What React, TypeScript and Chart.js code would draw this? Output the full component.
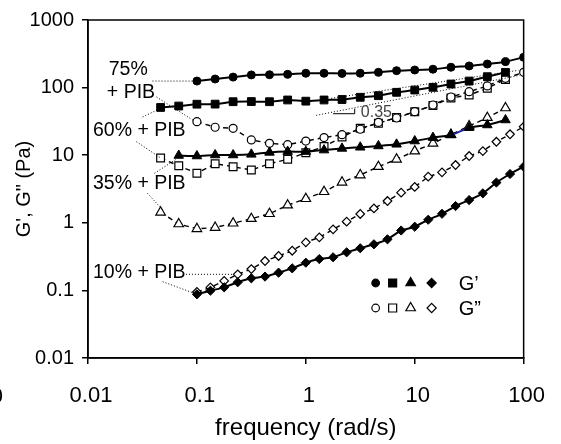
import React, { useEffect, useRef } from "react";
import { Chart, registerables } from "chart.js";

Chart.register(...registerables);

const FONT = '"Liberation Sans", Arial, Helvetica, sans-serif';

// frequencies (rad/s)
const freq6 = [0.0464, 0.0681, 0.1, 0.147, 0.215, 0.316, 0.464, 0.681, 1, 1.47, 2.15, 3.16, 4.64, 6.81, 10, 14.7, 21.5, 31.6, 46.4, 68.1, 100];
const freq8 = [0.1, 0.133, 0.178, 0.237, 0.316, 0.422, 0.562, 0.75, 1, 1.33, 1.78, 2.37, 3.16, 4.22, 5.62, 7.5, 10, 13.3, 17.8, 23.7, 31.6, 42.2, 56.2, 75, 100];

// 75% + PIB (starts at freq6[2])
const g1_75 = [125, 134, 143, 154, 155, 157, 163, 163, 162, 163, 168, 178, 182, 187, 200, 209, 223, 242, 281];
const g2_75 = [31.3, 25.9, 25.0, 16.8, 15.0, 14.3, 16.2, 18.2, 20.1, 24.2, 30.5, 35.5, 44, 55.3, 72.6, 87, 106, 137, 168];
// 60% + PIB (starts at freq6[0])
const g1_60 = [50.8, 53.4, 56.8, 57, 61.8, 62.2, 61.8, 65.6, 63, 65.6, 66.7, 71.9, 75.9, 85.2, 92.1, 101, 113, 125, 145, 168];
const g2_60 = [9.1, 6.97, 5.4, 7.48, 6.76, 6.04, 7.48, 8.69, 10.9, 13.4, 18.6, 25, 29.6, 36.1, 44, 54.3, 70.2, 77.8, 97.7, 132];
// 35% + PIB (G' starts at freq6[1], G" at freq6[0])
const g1_35 = [9.9, 9.73, 10.07, 10.07, 10.3, 11.0, 11.3, 11.3, 11.9, 12.6, 13.1, 13.7, 14.5, 16.2, 18.2, 19.9, 25.5, 28, 33.2];
const g2_35 = [1.43, 0.96, 0.815, 0.851, 0.984, 1.15, 1.36, 1.82, 2.27, 2.88, 3.97, 5.09, 6.76, 8.69, 11.5, 15, 20.2, 27, 35.9, 49.9];
// 10% + PIB (freq8)
const g1_10 = [0.0875, 0.099, 0.111, 0.132, 0.151, 0.160, 0.183, 0.212, 0.257, 0.291, 0.309, 0.366, 0.42, 0.481, 0.570, 0.769, 0.875, 1.11, 1.36, 1.77, 2.17, 2.73, 3.94, 5.27, 6.76];
const g2_10 = [0.0947, 0.111, 0.138, 0.173, 0.207, 0.272, 0.323, 0.386, 0.514, 0.61, 0.80, 1.04, 1.35, 1.63, 2.10, 2.79, 3.39, 4.81, 5.58, 7.16, 9.73, 11.5, 15.8, 20.4, 26.4];

const xTicks = [0.01, 0.1, 1, 10, 100];
const yTicks = [0.01, 0.1, 1, 10, 100, 1000];

// annotation texts (data coords: x, y)
const labelTexts = ["75%", "+ PIB", "60% + PIB", "35% + PIB", "10% + PIB"];
const labelX = [0.0155, 0.0149, 0.0111, 0.0111, 0.0111];
const labelY = [182, 84.8, 22.8, 3.75, 0.181];

// dotted leader / reference lines [x1, y1, x2, y2] in data coords
const dottedLines = [
  [0.0391, 125, 0.0944, 125],
  [0.0426, 72.6, 0.0944, 32.1],
  [0.0317, 36.7, 0.0482, 50.8],
  [0.0278, 15.85, 0.047, 9.0],
  [0.0408, 5.4, 0.0643, 8.69],
  [0.0352, 2.73, 0.0485, 1.55],
  [0.0793, 0.173, 0.2138, 0.173],
  [0.0485, 0.1346, 0.0944, 0.0906],
  [1.247, 38.9, 92, 152],
  [1.71, 69.5, 89.5, 180],
];
// slope marker legs
const slopeLegs = [
  [1.78, 41.1, 2.81, 41.1],
  [2.81, 41.1, 2.81, 48.7],
];
const slopeText = "0.35";
const slopeTextPos = [3.2, 42.1];

const legendRows = ["G\u2019", "G\u201D"];
const legendShapes = ["circle", "rect", "triangle", "rectRot"];

function pts(freqs: number[], start: number, vals: number[]) {
  return vals.map((v, i) => ({ x: freqs[start + i], y: v }));
}

function drawShape(ctx: CanvasRenderingContext2D, shape: string, x: number, y: number, filled: boolean) {
  ctx.beginPath();
  if (shape === "circle") {
    ctx.arc(x, y, 3.8, 0, Math.PI * 2);
  } else if (shape === "rect") {
    ctx.rect(x - 4, y - 4, 8, 8);
  } else if (shape === "triangle") {
    const r = 5.5;
    ctx.moveTo(x, y - r);
    ctx.lineTo(x + r * 0.866, y + r * 0.5);
    ctx.lineTo(x - r * 0.866, y + r * 0.5);
    ctx.closePath();
  } else {
    const r = 4.6;
    ctx.moveTo(x, y - r);
    ctx.lineTo(x + r, y);
    ctx.lineTo(x, y + r);
    ctx.lineTo(x - r, y);
    ctx.closePath();
  }
  ctx.fillStyle = filled ? "#000" : "#fff";
  ctx.fill();
  ctx.lineWidth = 1.2;
  ctx.strokeStyle = "#000";
  ctx.stroke();
}

const decorPlugin = {
  id: "decor",
  afterDatasetsDraw(chart: any) {
    const { ctx, chartArea } = chart;
    const xs = chart.scales.x;
    const ys = chart.scales.y;
    const px = (v: number) => xs.getPixelForValue(v);
    const py = (v: number) => ys.getPixelForValue(v);
    ctx.save();
    // frame
    ctx.strokeStyle = "#000";
    ctx.lineWidth = 1.5;
    ctx.setLineDash([]);
    ctx.strokeRect(chartArea.left, chartArea.top, chartArea.right - chartArea.left, chartArea.bottom - chartArea.top);

    // dotted lines
    ctx.lineWidth = 1;
    ctx.setLineDash([1, 2]);
    dottedLines.forEach((l) => {
      ctx.beginPath();
      ctx.moveTo(px(l[0]), py(l[1]));
      ctx.lineTo(px(l[2]), py(l[3]));
      ctx.stroke();
    });
    ctx.setLineDash([]);
    ctx.lineWidth = 1;
    slopeLegs.forEach((l) => {
      ctx.beginPath();
      ctx.moveTo(px(l[0]), py(l[1]));
      ctx.lineTo(px(l[2]), py(l[3]));
      ctx.stroke();
    });
    ctx.fillStyle = "#444";
    ctx.font = `16px ${FONT}`;
    ctx.textAlign = "left";
    ctx.textBaseline = "middle";
    ctx.fillText(slopeText, px(slopeTextPos[0]), py(slopeTextPos[1]));

    // series labels
    ctx.fillStyle = "#000";
    ctx.font = `19.5px ${FONT}`;
    labelTexts.forEach((t, i) => {
      ctx.fillText(t, px(labelX[i]), py(labelY[i]));
    });

    // legend
    const mx = [-148, -131, -113, -92];
    const rowY = [chartArea.bottom - 75, chartArea.bottom - 50];
    rowY.forEach((yy, r) => {
      legendShapes.forEach((s, i) => drawShape(ctx, s, chartArea.right + mx[i], yy, r === 0));
      ctx.fillStyle = "#000";
      ctx.font = `20px ${FONT}`;
      ctx.textAlign = "left";
      ctx.textBaseline = "middle";
      ctx.fillText(legendRows[r], chartArea.right - 65, yy + 1);
    });

    // clipped leftover label at the far left
    ctx.font = `22px ${FONT}`;
    ctx.textAlign = "right";
    ctx.fillText("0", 3, 397);
    ctx.restore();
  },
};

export default function App() {
  const ref = useRef<HTMLCanvasElement | null>(null);
  useEffect(() => {
    if (!ref.current) return;
    const solid = (data: any[], style: string, radius: number, extra: any = {}) => ({
      data,
      borderColor: "#000",
      borderWidth: 2,
      pointStyle: style,
      pointRadius: radius,
      pointBackgroundColor: "#000",
      pointBorderColor: "#000",
      pointBorderWidth: 1,
      tension: 0.2,
      ...extra,
    });
    const dashed = (data: any[], style: string, radius: number) => ({
      data,
      borderColor: "#000",
      borderWidth: 1.4,
      borderDash: [5, 4],
      pointStyle: style,
      pointRadius: radius,
      pointBackgroundColor: "#fff",
      pointBorderColor: "#000",
      pointBorderWidth: 1.2,
      tension: 0,
    });
    const chart = new Chart(ref.current, {
      type: "line",
      data: {
        datasets: [
          solid(pts(freq6, 2, g1_75), "circle", 4),
          solid(pts(freq6, 0, g1_60), "rect", 5.5),
          solid(pts(freq6, 1, g1_35), "triangle", 5.5, {
            segment: { borderColor: (c: any) => (c.p0DataIndex === 15 ? "#2323a0" : undefined) },
          }),
          solid(pts(freq8, 0, g1_10), "rectRot", 4.6),
          dashed(pts(freq6, 2, g2_75), "circle", 4),
          dashed(pts(freq6, 0, g2_60), "rect", 5.5),
          dashed(pts(freq6, 0, g2_35), "triangle", 5.5),
          dashed(pts(freq8, 0, g2_10), "rectRot", 4.3),
        ] as any,
      },
      options: {
        animation: false,
        responsive: false,
        devicePixelRatio: 1,
        layout: { padding: { left: 0, right: 34, top: 20, bottom: 0 } },
        plugins: { legend: { display: false }, tooltip: { enabled: false } },
        scales: {
          x: {
            type: "logarithmic",
            min: 0.01,
            max: 100,
            afterBuildTicks: (s: any) => {
              s.ticks = xTicks.map((v) => ({ value: v }));
            },
            afterFit: (s: any) => {
              s.height = 86;
            },
            ticks: {
              callback: (v: any) => String(v),
              font: { family: FONT, size: 22 },
              color: "#000",
              padding: 19,
              labelOffset: 3,
              maxRotation: 0,
              autoSkip: false,
            },
            grid: { drawOnChartArea: false, drawTicks: true, tickLength: 6, color: "#000", lineWidth: 1.5 },
            border: { color: "#000", width: 1.5 },
            title: {
              display: true,
              text: "frequency (rad/s)",
              font: { family: FONT, size: 24 },
              color: "#000",
              padding: { top: 0, bottom: 1 },
            },
          },
          y: {
            type: "logarithmic",
            min: 0.01,
            max: 1000,
            afterBuildTicks: (s: any) => {
              s.ticks = yTicks.map((v) => ({ value: v }));
            },
            afterFit: (s: any) => {
              s.width = 88;
            },
            ticks: {
              callback: (v: any) => String(v),
              font: { family: FONT, size: 20 },
              color: "#000",
              padding: 8,
              autoSkip: false,
            },
            grid: { drawOnChartArea: false, drawTicks: true, tickLength: 6, color: "#000", lineWidth: 1.5 },
            border: { color: "#000", width: 1.5 },
            title: {
              display: true,
              text: "G', G\" (Pa)",
              font: { family: FONT, size: 20 },
              color: "#000",
              padding: { top: 12, bottom: 0 },
            },
          },
        },
      } as any,
      plugins: [decorPlugin],
    });
    return () => chart.destroy();
  }, []);
  return (
    <div style={{ position: "fixed", left: 0, top: 0, width: 561, height: 444, background: "#fff" }}>
      <canvas ref={ref} width={561} height={444} style={{ width: 561, height: 444, display: "block" }} />
    </div>
  );
}
